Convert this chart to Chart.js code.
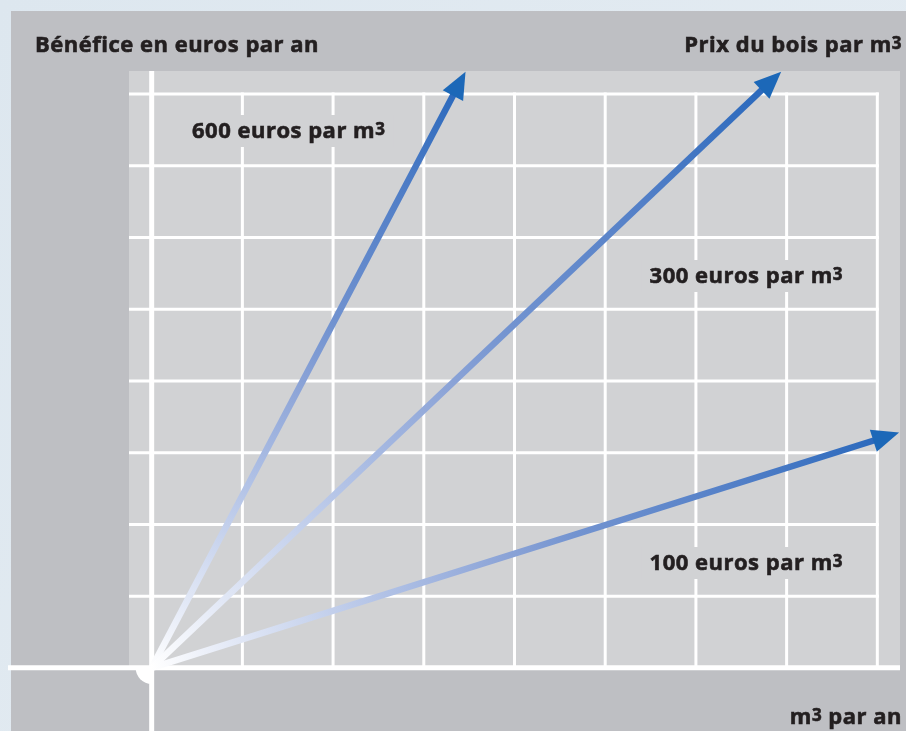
<!DOCTYPE html>
<html>
<head>
<meta charset="utf-8">
<script src="https://cdn.jsdelivr.net/npm/chart.js@4"></script>
<style>
  html, body { margin: 0; padding: 0; background: #dfe8f0; overflow: hidden; }
  canvas { display: block; }
</style>
</head>
<body>
<canvas id="myChart" width="906" height="731"></canvas>
<script>
// data
const yTitle = 'Bénéfice en euros par an';
const xTitle = 'm³ par an';
const seriesTitle = 'Prix du bois par m³';
const prices = [600, 300, 100];
const priceLabels = ['600 euros par m³', '300 euros par m³', '100 euros par m³'];
const endX = [3.46, 6.94, 8.24];
const endY = [8.31, 8.31, 3.28];
const gridX = [1, 2, 3, 4, 5, 6, 7, 8];
const gridY = [1, 2, 3, 4, 5, 6, 7, 8];

// where the price labels sit (pixels) and how they are aligned
const labelSpots = [
  { x: 192, y: 138, align: 'left' },
  { x: 843, y: 283, align: 'right' },
  { x: 843, y: 570, align: 'right' }
];

const ink = '#231f20';
const panel = '#bebfc3';
const inner = '#d1d2d4';
const FS = 22;

function richText(ctx, text, x, y, align, draw) {
  const parts = text.split('³');
  const mainFont = 'bold ' + FS + 'px "Open Sans"';
  const supFont = 'bold ' + Math.round(FS * 0.78) + 'px "Open Sans"';
  ctx.letterSpacing = '0.5px';
  let w = 0;
  parts.forEach((p, i) => {
    ctx.font = mainFont;
    w += ctx.measureText(p).width;
    if (i < parts.length - 1) {
      ctx.font = supFont;
      w += ctx.measureText('3').width;
    }
  });
  const left = align === 'right' ? x - w : x;
  if (draw) {
    let cx = left;
    ctx.fillStyle = ink;
    ctx.strokeStyle = ink;
    ctx.lineWidth = 0.6;
    ctx.textBaseline = 'alphabetic';
    ctx.textAlign = 'left';
    parts.forEach((p, i) => {
      ctx.font = mainFont;
      ctx.fillText(p, cx, y);
      ctx.strokeText(p, cx, y);
      cx += ctx.measureText(p).width;
      if (i < parts.length - 1) {
        ctx.font = supFont;
        ctx.fillText('3', cx, y - 3.5);
        ctx.strokeText('3', cx, y - 3.5);
        cx += ctx.measureText('3').width;
      }
    });
  }
  return { left: left, right: left + w };
}

const backdrop = {
  id: 'backdrop',
  beforeDraw(chart) {
    const ctx = chart.ctx;
    const a = chart.chartArea;
    const xs = chart.scales.x, ys = chart.scales.y;
    const x0 = xs.getPixelForValue(0), y0 = ys.getPixelForValue(0);
    const xEnd = xs.getPixelForValue(gridX[gridX.length - 1]);
    const yEnd = ys.getPixelForValue(gridY[gridY.length - 1]);
    ctx.save();
    const bg = ctx.createLinearGradient(0, 0, chart.width, chart.height);
    bg.addColorStop(0, '#dde7ef');
    bg.addColorStop(1, '#e6edf3');
    ctx.fillStyle = bg;
    ctx.fillRect(0, 0, chart.width, chart.height);
    ctx.fillStyle = panel;
    ctx.fillRect(11, 11, chart.width - 11, chart.height - 11);
    ctx.fillStyle = inner;
    ctx.fillRect(a.left, a.top, a.right - a.left, y0 - a.top);

    // grid
    ctx.strokeStyle = '#ffffff';
    ctx.lineWidth = 3;
    gridY.forEach(v => {
      const py = ys.getPixelForValue(v);
      ctx.beginPath();
      ctx.moveTo(a.left, py);
      ctx.lineTo(xEnd + 1.5, py);
      ctx.stroke();
    });
    gridX.forEach(v => {
      const px = xs.getPixelForValue(v);
      ctx.beginPath();
      ctx.moveTo(px, yEnd - 1.5);
      ctx.lineTo(px, y0);
      ctx.stroke();
    });

    // label boxes hide the grid behind the price labels
    priceLabels.forEach((t, i) => {
      const s = labelSpots[i];
      const b = richText(ctx, t, s.x, s.y, s.align, false);
      ctx.fillStyle = inner;
      ctx.fillRect(b.left - 8, s.y - 23, b.right - b.left + 16, 32);
    });

    // axes
    ctx.strokeStyle = '#ffffff';
    ctx.lineWidth = 5;
    ctx.beginPath();
    ctx.moveTo(x0, a.top);
    ctx.lineTo(x0, chart.height);
    ctx.stroke();
    ctx.beginPath();
    ctx.moveTo(8, y0);
    ctx.lineTo(a.right, y0);
    ctx.stroke();
    ctx.fillStyle = '#ffffff';
    ctx.beginPath();
    ctx.moveTo(x0, y0);
    ctx.arc(x0, y0, 16, Math.PI / 2, Math.PI);
    ctx.closePath();
    ctx.fill();
    ctx.restore();
  },
  afterDatasetsDraw(chart) {
    const ctx = chart.ctx;
    ctx.save();
    chart.data.datasets.forEach((ds, i) => {
      const pts = chart.getDatasetMeta(i).data;
      const ox = pts[0].x, oy = pts[0].y, tx = pts[1].x, ty = pts[1].y;
      const len = Math.hypot(tx - ox, ty - oy);
      const ux = (tx - ox) / len, uy = (ty - oy) / len;
      const head = 27, half = 11.5;
      const bx = tx - ux * head, by = ty - uy * head;
      const g = ctx.createLinearGradient(ox, oy, tx, ty);
      g.addColorStop(0, '#ffffff');
      g.addColorStop(0.11, '#e2e8f6');
      g.addColorStop(0.32, '#afc0e5');
      g.addColorStop(0.47, '#8ca4d7');
      g.addColorStop(0.57, '#7293d0');
      g.addColorStop(0.785, '#527fc7');
      g.addColorStop(1, '#2566bb');
      ctx.strokeStyle = g;
      ctx.lineWidth = 6.5;
      ctx.lineCap = 'butt';
      ctx.beginPath();
      ctx.moveTo(ox, oy);
      ctx.lineTo(bx + ux * 3, by + uy * 3);
      ctx.stroke();
      ctx.fillStyle = '#1c68b8';
      ctx.beginPath();
      ctx.moveTo(tx, ty);
      ctx.lineTo(bx - uy * half, by + ux * half);
      ctx.lineTo(bx + uy * half, by - ux * half);
      ctx.closePath();
      ctx.fill();
    });
    ctx.restore();
  },
  afterDraw(chart) {
    const ctx = chart.ctx;
    ctx.save();
    richText(ctx, yTitle, 35, 52, 'left', true);
    richText(ctx, seriesTitle, 902, 52, 'right', true);
    richText(ctx, xTitle, 902, 724, 'right', true);
    priceLabels.forEach((t, i) => {
      const s = labelSpots[i];
      richText(ctx, t, s.x, s.y, s.align, true);
    });
    ctx.restore();
  }
};

const data = {
  datasets: prices.map((p, i) => ({
    label: priceLabels[i],
    data: [{ x: 0, y: 0 }, { x: endX[i], y: endY[i] }],
    showLine: false,
    pointRadius: 0
  }))
};

const config = {
  type: 'scatter',
  data: data,
  options: {
    responsive: false,
    animation: false,
    events: [],
    layout: { padding: { left: 129, right: 6, top: 71, bottom: 0 } },
    plugins: { legend: { display: false }, tooltip: { enabled: false } },
    scales: {
      x: { type: 'linear', min: -0.25, max: 8.25, display: false },
      y: { type: 'linear', min: -0.88, max: 8.32, display: false }
    }
  },
  plugins: [backdrop]
};

const myChart = new Chart(document.getElementById('myChart'), config);
</script>
</body>
</html>
